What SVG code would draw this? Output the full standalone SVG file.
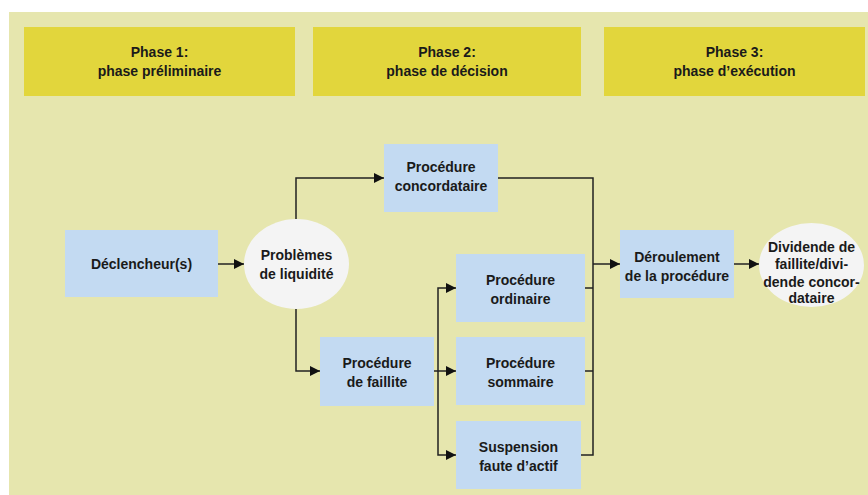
<svg xmlns="http://www.w3.org/2000/svg" width="868" height="495" viewBox="0 0 868 495">
<defs>
<style>
.phase{fill:#e2d63c}
.box{fill:#c3daf2}
.oval{fill:#f4f4f4}
text{font-family:"Liberation Sans",Arial,sans-serif;font-weight:bold;font-size:14px;fill:#1a1a1a;text-anchor:middle}
.conn path{fill:none;stroke:#222;stroke-width:1.5}
</style>
<marker id="arr" viewBox="0 0 10 10" refX="10" refY="5" markerWidth="10" markerHeight="10" markerUnits="userSpaceOnUse" orient="auto">
<path d="M0,0 L10,5 L0,10 z" fill="#111"/>
</marker>
</defs>
<rect x="0" y="0" width="868" height="495" fill="#ffffff"/>
<rect x="9" y="12" width="859" height="483" fill="#e6e6ae"/>

<g id="phase1"><rect class="phase" x="24" y="27" width="271" height="69"/><text x="159.5" y="57">Phase 1:</text><text x="159.5" y="76">phase préliminaire</text></g>
<g id="phase2"><rect class="phase" x="313" y="27" width="268" height="69"/><text x="447" y="57">Phase 2:</text><text x="447" y="76">phase de décision</text></g>
<g id="phase3"><rect class="phase" x="604" y="27" width="261" height="69"/><text x="734.5" y="57">Phase 3:</text><text x="734.5" y="76">phase d’exécution</text></g>

<g class="conn" id="connectors">
<path d="M218,264 H244" marker-end="url(#arr)"/>
<path d="M296,219 V178 H384" marker-end="url(#arr)"/>
<path d="M296,309 V371 H320" marker-end="url(#arr)"/>
<path d="M434,371 H456" marker-end="url(#arr)"/>
<path d="M438,371 V288 H456" marker-end="url(#arr)"/>
<path d="M438,371 V455 H456" marker-end="url(#arr)"/>
<path d="M498,178 H593 V455 H581"/>
<path d="M585,288 H593"/>
<path d="M585,371 H593"/>
<path d="M593,264 H620" marker-end="url(#arr)"/>
<path d="M734,264 H759" marker-end="url(#arr)"/>
</g>

<g id="declencheur"><rect class="box" x="65" y="230" width="153" height="67"/><text x="141.5" y="269">Déclencheur(s)</text></g>
<g id="problemes"><ellipse class="oval" cx="296.5" cy="264" rx="52.5" ry="45"/><text x="296.5" y="260">Problèmes</text><text x="296.5" y="279">de liquidité</text></g>
<g id="concordataire"><rect class="box" x="384" y="144" width="114" height="68"/><text x="441" y="172">Procédure</text><text x="441" y="191">concordataire</text></g>
<g id="faillite"><rect class="box" x="320" y="337" width="114" height="69"/><text x="377" y="368">Procédure</text><text x="377" y="387">de faillite</text></g>
<g id="ordinaire"><rect class="box" x="456" y="254" width="129" height="68"/><text x="520.5" y="285">Procédure</text><text x="520.5" y="304">ordinaire</text></g>
<g id="sommaire"><rect class="box" x="456" y="337" width="129" height="68"/><text x="520.5" y="368">Procédure</text><text x="520.5" y="387">sommaire</text></g>
<g id="suspension"><rect class="box" x="456" y="421" width="125" height="68"/><text x="518.5" y="452">Suspension</text><text x="518.5" y="471">faute d’actif</text></g>
<g id="deroulement"><rect class="box" x="620" y="230" width="114" height="68"/><text x="677" y="262">Déroulement</text><text x="677" y="281">de la procédure</text></g>
<g id="dividende"><ellipse class="oval" cx="811.5" cy="265" rx="52.5" ry="42"/><text x="811.5" y="252">Dividende de</text><text x="811.5" y="269">faillite/divi-</text><text x="811.5" y="286.5">dende concor-</text><text x="811.5" y="303">dataire</text></g>
</svg>
